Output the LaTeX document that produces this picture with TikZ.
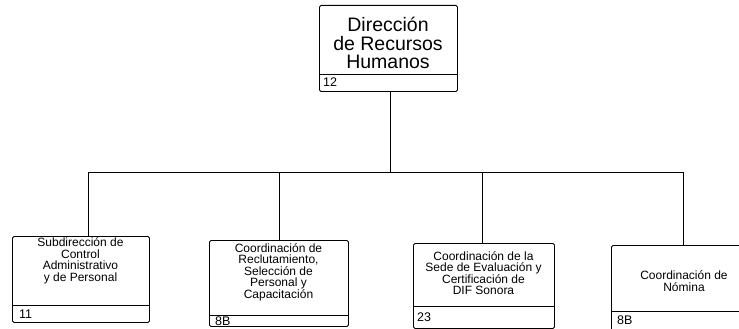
\documentclass[tikz,border=0pt]{standalone}
\usepackage{fontspec}
\setmainfont{Liberation Sans}
\begin{document}
\begin{tikzpicture}[x=1pt,y=-1pt]
\tikzset{
  frame/.style={draw=black, line width=0.9pt, rounded corners=1.5pt, anchor=north west, inner sep=0pt},
  wire/.style={draw=black, line width=0.9pt},
  ttl/.style={align=center, inner sep=0pt, font=\fontsize{19.5}{18.5}\selectfont},
  sub/.style={align=center, inner sep=0pt, font=\fontsize{12}{11.5}\selectfont},
  code/.style={anchor=west, inner sep=0pt, font=\fontsize{12.5}{12}\selectfont},
}
\useasboundingbox (0,0) rectangle (739,329);
\clip (0,0) rectangle (739,329);

% top box
\node[frame, minimum width=138pt, minimum height=86pt] (top) at (319,5) {};
\draw[wire] (319,74) -- (457,74);
\node[ttl] (toptxt) at (388,43) {Dirección\\de Recursos\\Humanos};
\node[code] (topcode) at (323,82) {12};

% box 1
\node[frame, minimum width=137pt, minimum height=86pt] (b1) at (12,236) {};
\draw[wire] (12,305) -- (149,305);
\node[sub] (t1) at (80.5,261) {Subdirección de\\Control\\Administrativo\\y de Personal};
\node[code] (c1) at (19,314) {11};

% box 2
\node[frame, minimum width=139pt, minimum height=86pt] (b2) at (209,240) {};
\draw[wire] (209,315) -- (348,315);
\node[sub] (t2) at (278.5,272) {Coordinación de\\Reclutamiento,\\Selección de\\Personal y\\Capacitación};
\node[code] (c2) at (215,321) {8B};

% box 3
\node[frame, minimum width=141pt, minimum height=85pt] (b3) at (413,243) {};
\draw[wire] (413,306) -- (554,306);
\node[sub] (t3) at (483.5,273) {Coordinación de la\\Sede de Evaluación y\\Certificación de\\DIF Sonora};
\node[code] (c3) at (417,317) {23};

% box 4
\node[frame, minimum width=139pt, minimum height=100pt] (b4) at (611,245) {};
\draw[wire] (611,311) -- (750,311);
\node[sub] (t4) at (684,281) {Coordinación de\\Nómina};
\node[code] (c4) at (617,320) {8B};

% connectors
\coordinate (hc) at (390,172);
\coordinate (h1) at (88,172);
\coordinate (h2) at (279,172);
\coordinate (h3) at (482,172);
\coordinate (h4) at (683,172);
\draw[wire] (top.south -| hc) -- (hc);
\draw[wire] (h1) -- (h4);
\draw[wire] (h1) -- (h1 |- b1.north);
\draw[wire] (h2) -- (h2 |- b2.north);
\draw[wire] (h3) -- (h3 |- b3.north);
\draw[wire] (h4) -- (h4 |- b4.north);
\end{tikzpicture}
\end{document}
